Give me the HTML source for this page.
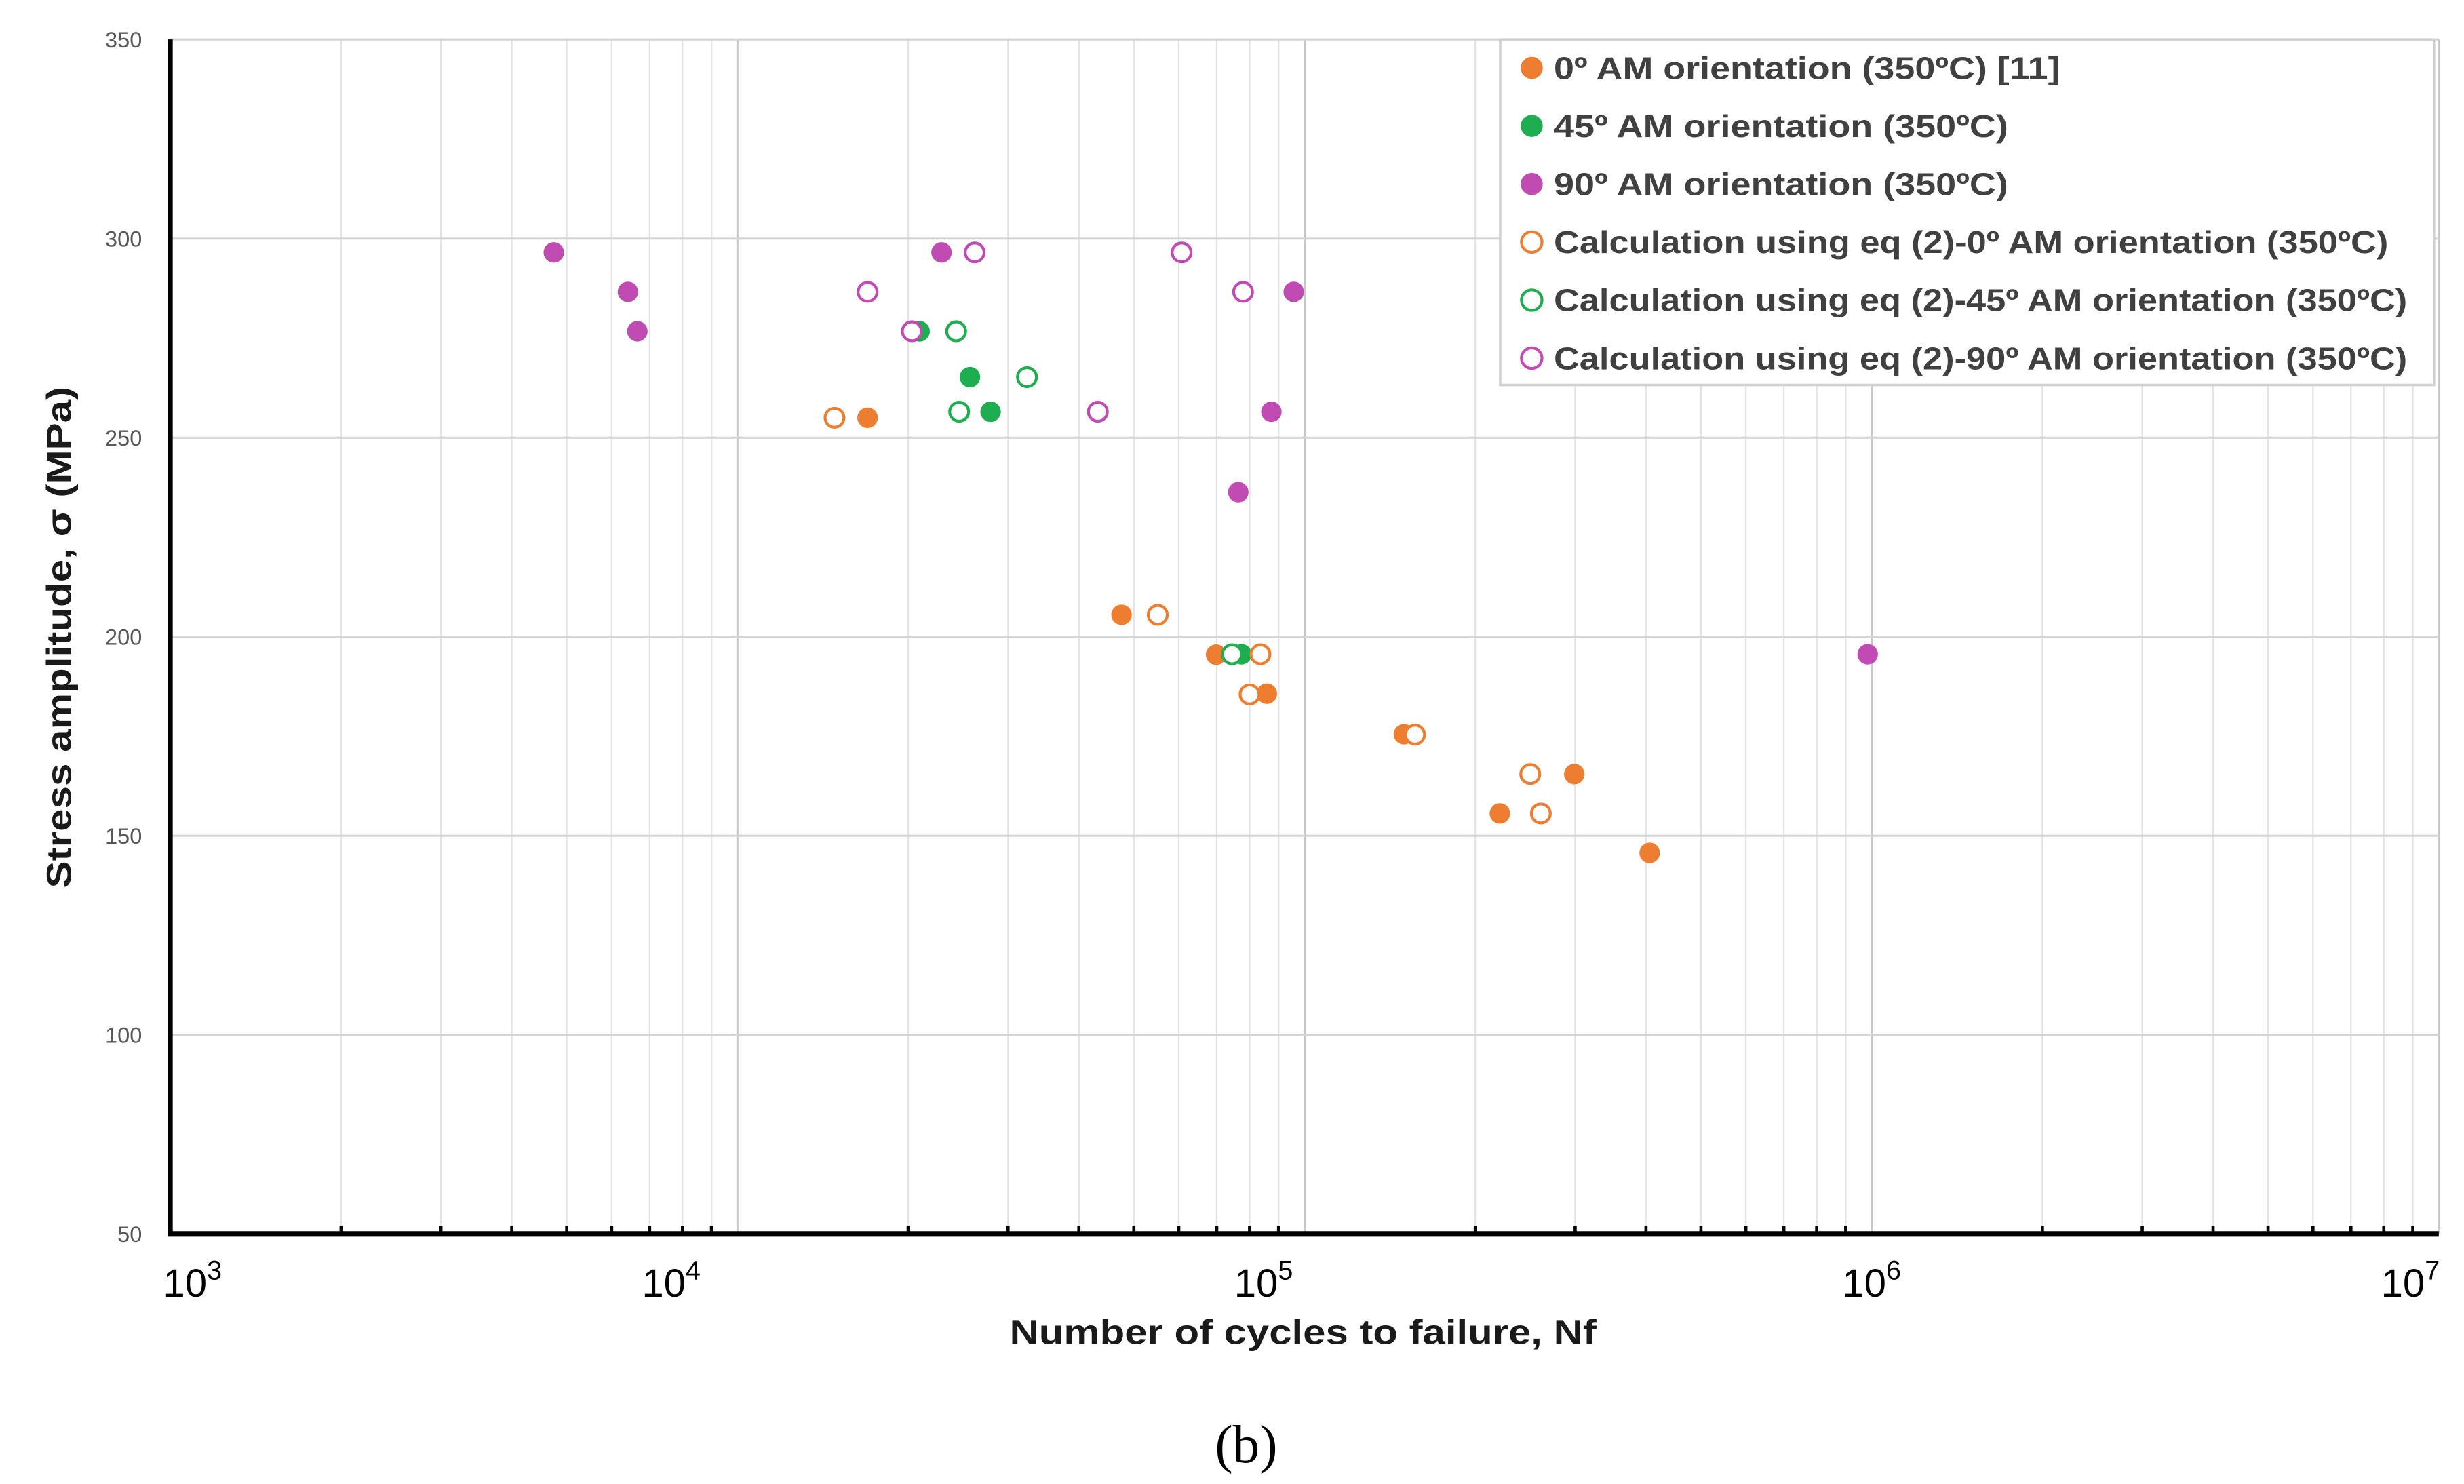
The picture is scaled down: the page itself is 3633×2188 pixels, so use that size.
<!DOCTYPE html>
<html><head><meta charset="utf-8"><style>html,body{margin:0;padding:0;background:#fff}svg{display:block}</style></head>
<body>
<svg id="chart" width="3633" height="2188" viewBox="0 0 1562 940.7" xmlns="http://www.w3.org/2000/svg" font-family="'Liberation Sans', sans-serif">
<g id="grid"></g>
<g id="marks"></g>
<g id="axes"></g>
<g id="legend"></g>
<text x="0" y="0" transform="translate(45,404) rotate(-90)" text-anchor="middle" font-size="22" font-weight="bold" fill="#1a1a1a" textLength="318" lengthAdjust="spacingAndGlyphs">Stress amplitude, σ (MPa)</text>
<text x="826" y="852" text-anchor="middle" font-size="22" font-weight="bold" fill="#1a1a1a" textLength="372" lengthAdjust="spacingAndGlyphs">Number of cycles to failure, Nf</text>
<text x="790" y="927" text-anchor="middle" font-size="34" font-family="'Liberation Serif', serif" fill="#000">(b)</text>
</svg>
<script>
const yTicks = [50, 100, 150, 200, 250, 300, 350];
const xDecades = [3, 4, 5, 6, 7];
const seriesNames = ["0º AM orientation (350ºC) [11]","45º AM orientation (350ºC)","90º AM orientation (350ºC)","Calculation using eq (2)-0º AM orientation (350ºC)","Calculation using eq (2)-45º AM orientation (350ºC)","Calculation using eq (2)-90º AM orientation (350ºC)"];
const s0N = [16960, 47560, 69840, 85800, 149700, 221000, 299000, 406000];
const s0S = [255, 205.5, 195.5, 185.7, 175.5, 155.6, 165.5, 145.7];
const s45N = [20950, 25700, 27950, 77400];
const s45S = [276.7, 265.2, 256.5, 195.6];
const s90N = [4744, 6410, 6660, 22900, 95700, 87400, 76400, 984000];
const s90S = [296.5, 286.6, 276.7, 296.5, 286.6, 256.5, 236.3, 195.6];
const c0N = [14830, 55100, 83600, 80000, 156600, 250000, 261000];
const c0S = [255, 205.5, 195.6, 185.5, 175.4, 165.5, 155.6];
const c45N = [24300, 32400, 24600, 74500];
const c45S = [276.7, 265.2, 256.5, 195.6];
const c90N = [16960, 20300, 26200, 60700, 77900, 43200];
const c90S = [286.6, 276.7, 296.5, 296.5, 286.6, 256.5];

const NS = "http://www.w3.org/2000/svg";
const X0 = 108, DEC = 359.5, Y350 = 25, PER50 = 126.2;
const labelShift = [14, -42, -26, 0, -18];
function xs(n){ return X0 + (Math.log10(n) - 3) * DEC; }
function ys(v){ return Y350 + (350 - v) / 50 * PER50; }
function mk(tag, attrs, parent){ const e = document.createElementNS(NS, tag); for (const k in attrs) e.setAttribute(k, attrs[k]); parent.appendChild(e); return e; }

const grid = document.getElementById('grid');
const axes = document.getElementById('axes');
const marks = document.getElementById('marks');
const legend = document.getElementById('legend');
const xR = xs(1e7), yB = ys(50);

for (let d = 3; d < 7; d++) {
  for (let m = 2; m <= 9; m++) {
    const x = xs(m * Math.pow(10, d));
    const l = mk('line', {x1:x, x2:x, y1:Y350, y2:yB, stroke:'#e4e4e4', 'stroke-width':1}, grid);
    
    
    const t = mk('line', {x1:x, x2:x, y1:yB-5, y2:yB, stroke:'#000', 'stroke-width':2}, axes);
    
    
  }
}
xDecades.forEach((d, i) => {
  const x = xs(Math.pow(10, d));
  const l = mk('line', {x1:x, x2:x, y1:Y350, y2:yB, stroke:'#c8c8c8', 'stroke-width':1.3}, grid);
  
  
  const t = mk('text', {x:x+labelShift[i], y:822, 'text-anchor':'middle', 'font-size':25, fill:'#000'}, axes);
  
  
  t.textContent = '10';
  const sup = mk('tspan', {dy:-11, 'font-size':17}, t);
  sup.textContent = String(d);
});
yTicks.forEach(v => {
  const y = ys(v);
  const l = mk('line', {x1:X0, x2:xR, y1:y, y2:y, stroke:'#d4d4d4', 'stroke-width':1.3}, grid);
  
  
  const t = mk('text', {x:90, y:y+5, 'text-anchor':'end', 'font-size':14, fill:'#595959'}, axes);
  
  
  t.textContent = String(v);
});
const ya = mk('line', {x1:X0, x2:X0, y1:Y350, y2:yB+1.5, stroke:'#000', 'stroke-width':3}, axes);


const xa = mk('line', {x1:X0-1.5, x2:xR, y1:yB, y2:yB, stroke:'#000', 'stroke-width':3.5}, axes);



const colors = ['#ED7D31', '#1FAE4F', '#BF4BB3'];
const series = [[s0N,s0S,0,true],[s45N,s45S,1,true],[s90N,s90S,2,true],[c0N,c0S,0,false],[c45N,c45S,1,false],[c90N,c90S,2,false]];
series.forEach((s, si) => {
  const [N, S, ci, filled] = s;
  N.forEach((n, i) => {
    const attrs = filled ? {cx:xs(n), cy:ys(S[i]), r:6.5, fill:colors[ci]} : {cx:xs(n), cy:ys(S[i]), r:6, fill:'#fff', stroke:colors[ci], 'stroke-width':1.8};
    const c = mk('circle', attrs, marks);
    
    
  });
});

const box = mk('rect', {x:951, y:25, width:592, height:219, fill:'#fff', stroke:'#cfcfcf', 'stroke-width':1.5}, legend);


const lens = [321, 288, 288, 529, 541, 541];
seriesNames.forEach((name, i) => {
  const y = 43 + i * 36.8;
  const ci = i % 3, filled = i < 3;
  const c = mk('circle', filled ? {cx:971, cy:y, r:7, fill:colors[ci]} : {cx:971, cy:y, r:6.5, fill:'#fff', stroke:colors[ci], 'stroke-width':1.8}, legend);
  
  
  const t = mk('text', {x:985, y:y+7, 'font-size':20, 'font-weight':'bold', fill:'#404040', textLength:lens[i], lengthAdjust:'spacingAndGlyphs'}, legend);
  
  
  t.textContent = name;
});
</script>
</body></html>
